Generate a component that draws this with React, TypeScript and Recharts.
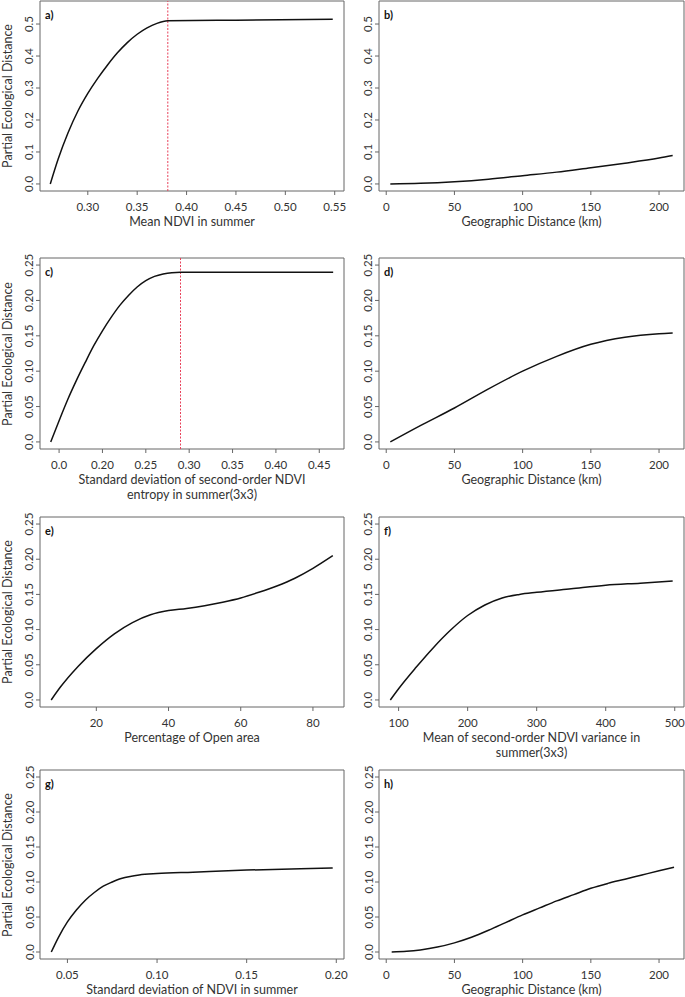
import React from 'react';
import { LineChart, Line, XAxis, YAxis, ReferenceArea, ReferenceLine } from 'recharts';

// panel a) Mean NDVI in summer
const aX = [0.262, 0.27, 0.28, 0.29, 0.3, 0.31, 0.32, 0.33, 0.34, 0.35, 0.36, 0.37, 0.381, 0.45, 0.548];
const aY = [0, 0.078, 0.16, 0.228, 0.283, 0.33, 0.372, 0.41, 0.442, 0.468, 0.488, 0.502, 0.51, 0.512, 0.515];
// panel b) geographic distance
const bX = [3, 25, 50, 75, 100, 125, 150, 175, 200, 210];
const bY = [0, 0.002, 0.007, 0.015, 0.026, 0.037, 0.051, 0.065, 0.081, 0.089];
// panel c) sd of second-order NDVI entropy
const cX = [0.1404, 0.15, 0.16, 0.17, 0.18, 0.19, 0.2, 0.21, 0.22, 0.23, 0.24, 0.25, 0.26, 0.27, 0.28, 0.29, 0.466];
const cY = [0, 0.03, 0.06, 0.087, 0.112, 0.136, 0.157, 0.176, 0.193, 0.207, 0.219, 0.228, 0.234, 0.2375, 0.2393, 0.2398, 0.2398];
// panel d) geographic distance
const dX = [3, 25, 50, 75, 100, 125, 150, 175, 200, 210];
const dY = [0, 0.023, 0.048, 0.075, 0.1, 0.121, 0.138, 0.148, 0.153, 0.154];
// panel e) open area
const eX = [7.5, 10, 15, 20, 25, 30, 35, 40, 45, 50, 55, 60, 65, 70, 75, 80, 85.5];
const eY = [0, 0.018, 0.048, 0.073, 0.094, 0.11, 0.121, 0.127, 0.13, 0.134, 0.139, 0.145, 0.153, 0.162, 0.173, 0.187, 0.205];
// panel f) mean of second-order NDVI variance
const fX = [88, 100, 125, 150, 175, 200, 225, 250, 275, 300, 350, 400, 450, 497];
const fY = [0, 0.016, 0.046, 0.074, 0.099, 0.12, 0.135, 0.145, 0.15, 0.153, 0.158, 0.163, 0.166, 0.169];
// panel g) sd of NDVI
const gX = [0.041, 0.045, 0.05, 0.055, 0.06, 0.065, 0.07, 0.075, 0.08, 0.085, 0.09, 0.1, 0.12, 0.15, 0.18, 0.198];
const gY = [0, 0.021, 0.043, 0.06, 0.074, 0.085, 0.094, 0.1, 0.105, 0.108, 0.11, 0.112, 0.114, 0.117, 0.119, 0.12];
// panel h) geographic distance
const hX = [4, 15, 25, 37.5, 50, 62.5, 75, 87.5, 100, 112.5, 125, 137.5, 150, 162.5, 175, 187.5, 200, 211];
const hY = [0, 0.001, 0.003, 0.007, 0.013, 0.021, 0.031, 0.042, 0.053, 0.063, 0.073, 0.082, 0.091, 0.098, 0.104, 0.11, 0.116, 0.121];

const yTicksTop = [0, 0.1, 0.2, 0.3, 0.4, 0.5];
const yLabelsTop = ['0.0', '0.1', '0.2', '0.3', '0.4', '0.5'];
const yTicks = [0, 0.05, 0.1, 0.15, 0.2, 0.25];
const yLabels = ['0.0', '0.05', '0.10', '0.15', '0.20', '0.25'];

const aTicks = [0.3, 0.35, 0.4, 0.45, 0.5, 0.55];
const aLabels = ['0.30', '0.35', '0.40', '0.45', '0.50', '0.55'];
const geoTicks = [0, 50, 100, 150, 200];
const geoLabels = ['0', '50', '100', '150', '200'];
const cTicks = [0.15, 0.2, 0.25, 0.3, 0.35, 0.4, 0.45];
const cLabels = ['0.0', '0.20', '0.25', '0.30', '0.35', '0.40', '0.45'];
const eTicks = [20, 40, 60, 80];
const eLabels = ['20', '40', '60', '80'];
const fTicks = [100, 200, 300, 400, 500];
const fLabels = ['100', '200', '300', '400', '500'];
const gTicks = [0.05, 0.1, 0.15, 0.2];
const gLabels = ['0.05', '0.10', '0.15', '0.20'];

const FONT = 'Lato, "Open Sans", sans-serif';
const AXIS = '#666';
const TEXT = '#333';
const PAD = 14; // room around the plot box for rotated / edge labels

const zip = (xs: number[], ys: number[]) => xs.map((x, i) => ({ x, y: ys[i] }));

const XTick = ({ x, y, index, labels }: any) => (
  <text x={x} y={y} textAnchor="middle" dominantBaseline="central" fontSize={11.5} fill={TEXT} fontFamily={FONT}>
    {labels[index]}
  </text>
);

const YTick = ({ x, y, index, labels }: any) => (
  <text
    x={x}
    y={y}
    transform={`rotate(-90 ${x} ${y})`}
    textAnchor="middle"
    dominantBaseline="central"
    fontSize={11.5}
    fill={TEXT}
    fontFamily={FONT}
  >
    {labels[index]}
  </text>
);

interface PanelProps {
  letter: string;
  left: number;
  top: number;
  bottom: number;
  width: number;
  xs: number[];
  ys: number[];
  xDomain: [number, number];
  xTicks: number[];
  xLabels: string[];
  yDomain: [number, number];
  yTicks: number[];
  yLabels: string[];
  title: string[];
  yTitle?: boolean;
  vline?: number;
}

function Panel(p: PanelProps) {
  const h = p.bottom - p.top;
  const data = zip(p.xs, p.ys);
  return (
    <>
      <div style={{ position: 'absolute', left: p.left - 40, top: p.top - PAD }}>
        <LineChart
          width={40 + p.width + PAD}
          height={PAD + h + 26}
          data={data}
          margin={{ top: PAD, right: PAD, left: 0, bottom: 0 }}
        >
          <XAxis
            dataKey="x"
            type="number"
            domain={p.xDomain}
            allowDataOverflow
            ticks={p.xTicks}
            interval={0}
            height={26}
            tickSize={4}
            tickMargin={11.5}
            axisLine={false}
            tickLine={{ stroke: AXIS }}
            tick={<XTick labels={p.xLabels} />}
          />
          <YAxis
            type="number"
            domain={p.yDomain}
            allowDataOverflow
            ticks={p.yTicks}
            interval={0}
            width={40}
            tickSize={4}
            tickMargin={7}
            axisLine={false}
            tickLine={{ stroke: AXIS }}
            tick={<YTick labels={p.yLabels} />}
          />
          <ReferenceArea
            x1={p.xDomain[0]}
            x2={p.xDomain[1]}
            y1={p.yDomain[0]}
            y2={p.yDomain[1]}
            fill="none"
            stroke={AXIS}
            strokeWidth={1}
            ifOverflow="visible"
          />
          {p.vline !== undefined && (
            <ReferenceLine x={p.vline} stroke="#e8415a" strokeDasharray="2 1.5" strokeWidth={1} />
          )}
          <Line type="monotone" dataKey="y" stroke="#111" strokeWidth={1.5} dot={false} isAnimationActive={false} />
        </LineChart>
      </div>
      <div
        style={{
          position: 'absolute',
          left: p.left + 5,
          top: p.top + 7,
          fontSize: 11,
          fontWeight: 700,
          lineHeight: '14px',
          color: '#111',
        }}
      >
        {p.letter}
      </div>
      <div
        style={{
          position: 'absolute',
          left: p.left,
          width: p.width,
          top: p.bottom + 24,
          textAlign: 'center',
          fontSize: 12.5,
          lineHeight: '14.5px',
          color: TEXT,
        }}
      >
        {p.title.map((t) => (
          <div key={t}>{t}</div>
        ))}
      </div>
      {p.yTitle && (
        <div
          style={{
            position: 'absolute',
            left: 8 - 100,
            width: 200,
            top: (p.top + p.bottom) / 2 - 8,
            height: 16,
            lineHeight: '16px',
            textAlign: 'center',
            fontSize: 12.5,
            color: TEXT,
            transform: 'rotate(-90deg)',
          }}
        >
          Partial Ecological Distance
        </div>
      )}
    </>
  );
}

const L = 40;
const LW = 304;
const R = 379;
const RW = 305;
const geoDomain: [number, number] = [-5.3, 218.3];
const lowDomain: [number, number] = [-0.01, 0.26];

export default function App() {
  return (
    <div style={{ position: 'absolute', left: 0, top: 0, width: 685, height: 997, background: '#fff', fontFamily: FONT, overflow: 'hidden' }}>
      <Panel letter="a)" left={L} width={LW} top={1} bottom={191} xs={aX} ys={aY} xDomain={[0.2516, 0.5594]} xTicks={aTicks} xLabels={aLabels} yDomain={[-0.022, 0.572]} yTicks={yTicksTop} yLabels={yLabelsTop} title={['Mean NDVI in summer']} yTitle vline={0.381} />
      <Panel letter="b)" left={R} width={RW} top={1} bottom={191} xs={bX} ys={bY} xDomain={geoDomain} xTicks={geoTicks} xLabels={geoLabels} yDomain={[-0.022, 0.572]} yTicks={yTicksTop} yLabels={yLabelsTop} title={['Geographic Distance (km)']} />
      <Panel letter="c)" left={L} width={LW} top={258} bottom={449} xs={cX} ys={cY} xDomain={[0.128, 0.4785]} xTicks={cTicks} xLabels={cLabels} yDomain={lowDomain} yTicks={yTicks} yLabels={yLabels} title={['Standard deviation of second-order NDVI', 'entropy in summer(3x3)']} yTitle vline={0.29} />
      <Panel letter="d)" left={R} width={RW} top={258} bottom={449} xs={dX} ys={dY} xDomain={geoDomain} xTicks={geoTicks} xLabels={geoLabels} yDomain={lowDomain} yTicks={yTicks} yLabels={yLabels} title={['Geographic Distance (km)']} />
      <Panel letter="e)" left={L} width={LW} top={517} bottom={707} xs={eX} ys={eY} xDomain={[4.4, 88.6]} xTicks={eTicks} xLabels={eLabels} yDomain={lowDomain} yTicks={yTicks} yLabels={yLabels} title={['Percentage of Open area']} yTitle />
      <Panel letter="f)" left={R} width={RW} top={517} bottom={707} xs={fX} ys={fY} xDomain={[71.6, 513.4]} xTicks={fTicks} xLabels={fLabels} yDomain={lowDomain} yTicks={yTicks} yLabels={yLabels} title={['Mean of second-order NDVI variance in', 'summer(3x3)']} />
      <Panel letter="g)" left={L} width={LW} top={770} bottom={959} xs={gX} ys={gY} xDomain={[0.0347, 0.2043]} xTicks={gTicks} xLabels={gLabels} yDomain={lowDomain} yTicks={yTicks} yLabels={yLabels} title={['Standard deviation of NDVI in summer']} yTitle />
      <Panel letter="h)" left={R} width={RW} top={770} bottom={959} xs={hX} ys={hY} xDomain={geoDomain} xTicks={geoTicks} xLabels={geoLabels} yDomain={lowDomain} yTicks={yTicks} yLabels={yLabels} title={['Geographic Distance (km)']} />
    </div>
  );
}
